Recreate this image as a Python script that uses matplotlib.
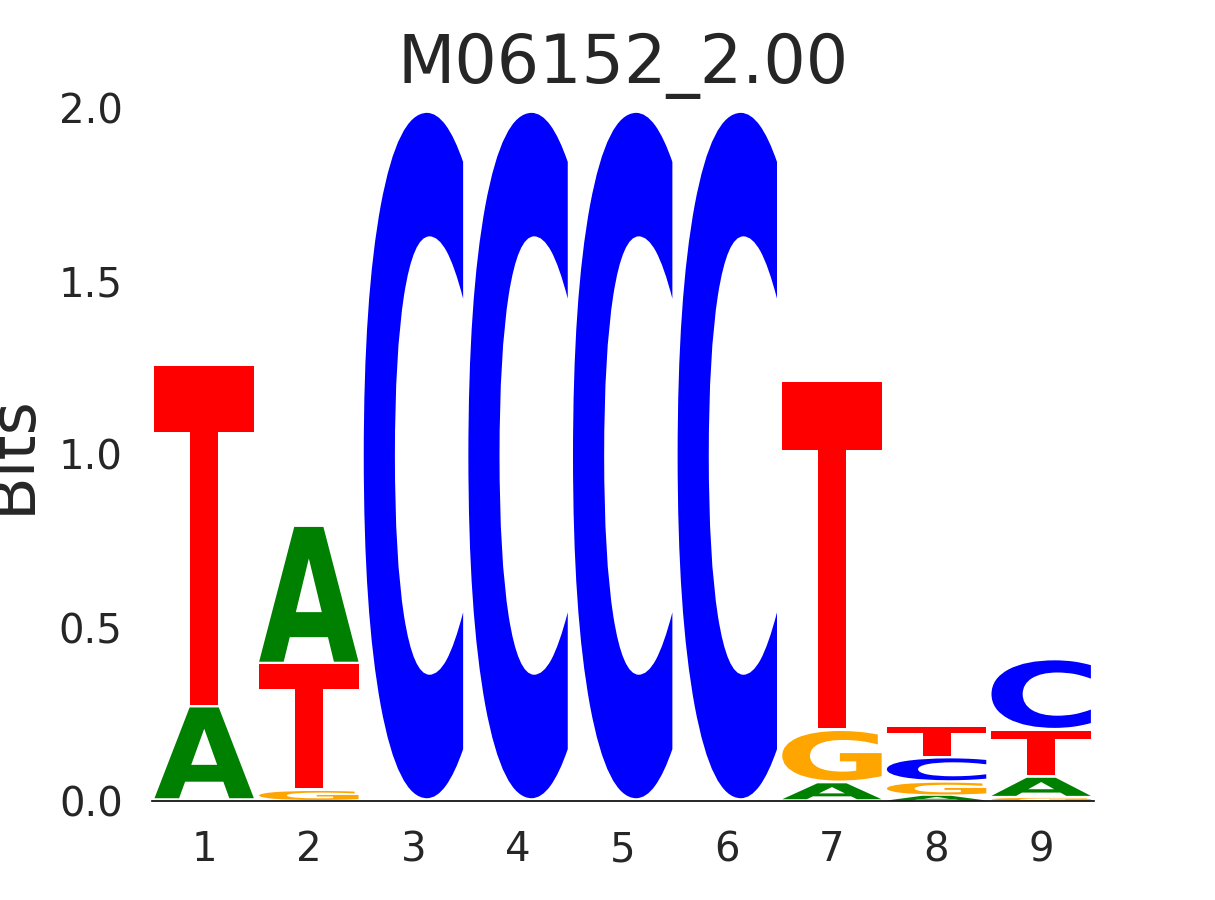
import numpy as np
import matplotlib
matplotlib.use("Agg")
import matplotlib.pyplot as plt
from matplotlib.textpath import TextPath
from matplotlib.patches import PathPatch
from matplotlib.font_manager import FontProperties
from matplotlib.transforms import Affine2D

# information content (bits) per base
positions = [1, 2, 3, 4, 5, 6, 7, 8, 9]
bits_A = [0.270, 0.397, 0.0, 0.0, 0.0, 0.0, 0.051, 0.015, 0.058]
bits_C = [0.0, 0.0, 1.986, 1.986, 1.986, 1.986, 0.0, 0.070, 0.203]
bits_G = [0.0, 0.029, 0.0, 0.0, 0.0, 0.0, 0.151, 0.038, 0.009]
bits_T = [0.985, 0.365, 0.0, 0.0, 0.0, 0.0, 1.006, 0.090, 0.136]
title = "M06152_2.00"

colors = {"A": "#008000", "C": "#0000ff", "G": "#ffa500", "T": "#ff0000"}
fp = FontProperties(family="DejaVu Sans", weight="bold")


def draw_letter(ax, ch, x, y0, h, width=0.95):
    if h <= 0:
        return
    path = TextPath((0, 0), ch, size=1, prop=fp)
    ext = path.get_extents()
    gap = min(0.008, 0.1 * h)  # small white gap under each letter
    t = (Affine2D()
         .translate(-ext.x0, -ext.y0)
         .scale(width / ext.width, (h - gap) / ext.height)
         .translate(x - width / 2, y0 + gap))
    ax.add_patch(PathPatch(t.transform_path(path), facecolor=colors[ch],
                           edgecolor="none"))


fig, ax = plt.subplots(figsize=(12.15, 9), dpi=100)

for i, p in enumerate(positions):
    stack = [("A", bits_A[i]), ("C", bits_C[i]), ("G", bits_G[i]), ("T", bits_T[i])]
    stack.sort(key=lambda s: s[1])
    y = 0.0
    for ch, h in stack:
        draw_letter(ax, ch, p, y, h)
        y += h

ax.set_xlim(0.5, 9.5)
ax.set_ylim(0, 2.0)
ax.set_xticks(positions)
ax.set_yticks([0.0, 0.5, 1.0, 1.5, 2.0])
ax.set_yticklabels(["0.0", "0.5", "1.0", "1.5", "2.0"])
for s in ["top", "right", "left"]:
    ax.spines[s].set_visible(False)
ax.spines["bottom"].set_color("black")
ax.spines["bottom"].set_linewidth(1.2)
ax.tick_params(axis="both", length=0, labelsize=29, labelcolor="#262626")
ax.tick_params(axis="y", pad=21)
ax.tick_params(axis="x", pad=21)
ax.set_title(title, fontsize=48, color="#262626", pad=18)
ax.set_ylabel("Bits", fontsize=46, color="#262626")
ax.yaxis.set_label_coords(-0.116, 0.5)

fig.savefig("out.png", dpi=100)
